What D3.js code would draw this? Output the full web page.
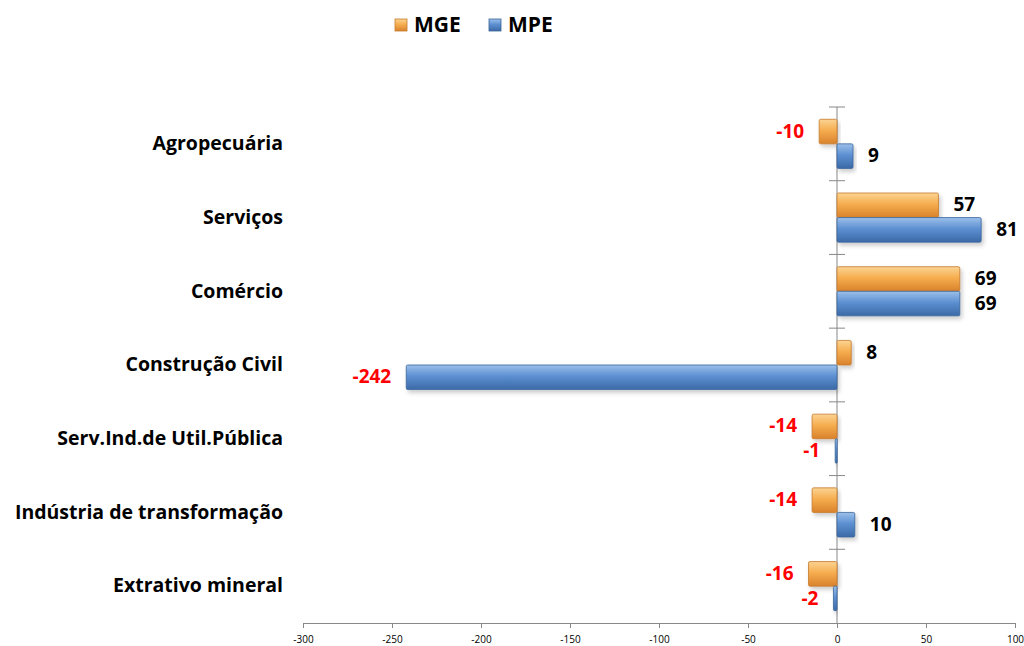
<!DOCTYPE html>
<html>
<head>
<meta charset="utf-8">
<script src="https://cdn.jsdelivr.net/npm/d3@7"></script>
<style>
  body { margin: 0; background: #fff; }
  svg { display: block; font-family: "Open Sans", "Liberation Sans", Arial, sans-serif; }
</style>
</head>
<body>
<script>
    const categories = ["Agropecuária", "Serviços", "Comércio", "Construção Civil",
        "Serv.Ind.de Util.Pública", "Indústria de transformação", "Extrativo mineral"];
    const seriesNames = ["MGE", "MPE"];
    const mgeValues = [-10, 57, 69, 8, -14, -14, -16];
    const mpeValues = [9, 81, 69, -242, -1, 10, -2];
    const xTicks = [-300, -250, -200, -150, -100, -50, 0, 50, 100];

    const svg = d3.select('body')
        .append('svg')
        .attr('width', 1024)
        .attr('height', 646);

    const defs = svg.append('defs');
    const grads = {
        MGE: ["#fbd493", "#f6ad4f", "#d9822c"],
        MPE: ["#9cc0ea", "#5d90d2", "#3b69a6"]
    };
    Object.keys(grads).forEach((k) => {
        const g = defs.append('linearGradient')
            .attr('id', 'grad-' + k)
            .attr('x1', 0).attr('y1', 0).attr('x2', 0).attr('y2', 1);
        g.append('stop').attr('offset', '0%').attr('stop-color', grads[k][0]);
        g.append('stop').attr('offset', '45%').attr('stop-color', grads[k][1]);
        g.append('stop').attr('offset', '100%').attr('stop-color', grads[k][2]);
    });
    const shadow = defs.append('filter').attr('id', 'shadow')
        .attr('x', '-20%').attr('y', '-20%').attr('width', '140%').attr('height', '160%');
    shadow.append('feDropShadow')
        .attr('dx', 2).attr('dy', 3).attr('stdDeviation', 2)
        .attr('flood-color', '#000').attr('flood-opacity', 0.2);

    const data = categories.map((c, i) => ({
        cat: c,
        values: [
            { key: "MGE", value: mgeValues[i] },
            { key: "MPE", value: mpeValues[i] }
        ]
    }));

    const axisY = 623;
    const x = d3.scaleLinear().domain([-300, 100]).range([303, 1015]);
    const y = d3.scaleBand().domain(categories).range([107, axisY]).padding(0);
    const ySub = d3.scaleBand().domain(seriesNames).range([0, y.bandwidth()]).paddingInner(0).paddingOuter(0.5);

    // horizontal axis
    const xAxis = d3.axisBottom(x).tickValues(xTicks).tickSize(5).tickSizeOuter(0)
        .tickPadding(8).tickFormat((d) => String(d));
    const gx = svg.append('g')
        .attr('transform', 'translate(0,' + axisY + ')')
        .call(xAxis);
    gx.select('.domain').attr('stroke', '#888');
    gx.selectAll('.tick line').attr('stroke', '#888');
    gx.selectAll('.tick text')
        .style('font-family', '"Liberation Sans Narrow", "Open Sans", sans-serif')
        .style('font-size', '10px')
        .attr('fill', '#000');

    // vertical axis at zero
    const boundaries = categories.map((c) => y(c));
    svg.append('line')
        .attr('x1', x(0)).attr('x2', x(0))
        .attr('y1', y.range()[0]).attr('y2', axisY)
        .attr('stroke', '#888');
    svg.selectAll('.ytick')
        .data(boundaries)
        .enter()
        .append('line')
        .attr('x1', x(0) - 8).attr('x2', x(0) + 8)
        .attr('y1', (d) => d).attr('y2', (d) => d)
        .attr('stroke', '#888');

    // category labels
    svg.selectAll('.cat')
        .data(categories)
        .enter()
        .append('text')
        .attr('x', 283)
        .attr('y', (d) => y(d) + y.bandwidth() / 2 + 1)
        .attr('text-anchor', 'end')
        .attr('dominant-baseline', 'middle')
        .style('font-size', '19.5px')
        .style('font-weight', 'bold')
        .text((d) => d);

    // bars
    const groups = svg.selectAll('.grp')
        .data(data)
        .enter()
        .append('g')
        .attr('transform', (d) => 'translate(0,' + y(d.cat) + ')');

    groups.selectAll('rect')
        .data((d) => d.values)
        .enter()
        .append('rect')
        .attr('x', (d) => x(Math.min(0, d.value)))
        .attr('y', (d) => ySub(d.key))
        .attr('width', (d) => Math.max(2, Math.abs(x(d.value) - x(0))))
        .attr('height', ySub.bandwidth())
        .attr('rx', 1.5)
        .attr('fill', (d) => 'url(#grad-' + d.key + ')')
        .attr('stroke', (d) => d.key === "MGE" ? "#c57a2c" : "#3a649a")
        .attr('stroke-width', 0.8)
        .attr('filter', 'url(#shadow)');

    groups.selectAll('.val')
        .data((d) => d.values)
        .enter()
        .append('text')
        .attr('x', (d) => d.value < 0 ? x(d.value) - 15 : x(d.value) + 15)
        .attr('y', (d) => ySub(d.key) + ySub.bandwidth() / 2 + 1)
        .attr('text-anchor', (d) => d.value < 0 ? 'end' : 'start')
        .attr('dominant-baseline', 'middle')
        .style('font-size', '19px')
        .style('font-weight', 'bold')
        .attr('fill', (d) => d.value < 0 ? '#ff0000' : '#000')
        .text((d) => d.value);

    // legend
    const legend = svg.append('g').attr('transform', 'translate(395,25)');
    const legendX = [0, 94];
    seriesNames.forEach((s, i) => {
        legend.append('rect')
            .attr('x', legendX[i]).attr('y', -6)
            .attr('width', 12).attr('height', 12)
            .attr('fill', 'url(#grad-' + s + ')')
            .attr('stroke', s === "MGE" ? "#c57a2c" : "#3a649a")
            .attr('stroke-width', 0.8);
        legend.append('text')
            .attr('x', legendX[i] + 19).attr('y', 1)
            .attr('dominant-baseline', 'middle')
            .style('font-size', '21px')
            .style('font-weight', 'bold')
            .text(s);
    });
</script>
</body>
</html>
